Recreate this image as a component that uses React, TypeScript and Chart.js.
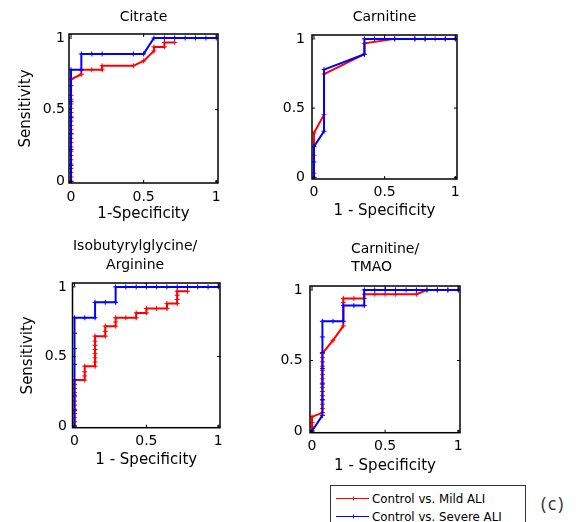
import React, { useEffect, useRef } from "react";
import { Chart, registerables } from "chart.js";

Chart.register(...registerables);

// ---------- data ----------
const TICKS = [0, 0.5, 1];
const X_RANGE = [-0.014, 1.012];
const Y_RANGE = [-0.012, 1.028];
const LEGEND = ["Control vs. Mild ALI", "Control vs. Severe ALI"];
const COLORS = ["#ff0000", "#0000ff"];
const PANEL_TITLES: (string | string[])[] = [
  "Citrate",
  "Carnitine",
  ["Isobutyrylglycine/     ", "Arginine     "],
  ["Carnitine/", "TMAO      "],
];
const X_TITLES = ["1-Specificity", "1 - Specificity", "1 - Specificity", "1 - Specificity"];
const Y_TITLE = "Sensitivity";

// Citrate
const CIT_MILD_X = [0, 0, 0, 0, 0, 0, 0, 0, 0, 0, 0, 0, 0, 0, 0, 0, 0, 0, 0, 0, 0, 0,
  0.071, 0.071, 0.143, 0.214, 0.214, 0.429, 0.5, 0.571, 0.571, 0.643, 0.643, 0.714];
const CIT_MILD_Y = [0, 0.03, 0.06, 0.09, 0.12, 0.15, 0.18, 0.21, 0.24, 0.27, 0.3, 0.33, 0.36, 0.39, 0.42,
  0.45, 0.48, 0.51, 0.54, 0.57, 0.6, 0.712,
  0.747, 0.778, 0.778, 0.778, 0.806, 0.806, 0.84, 0.91, 0.938, 0.938, 0.969, 0.969];
const CIT_SEV_X = [0, 0, 0, 0, 0, 0, 0, 0, 0.071, 0.071, 0.143, 0.214, 0.429, 0.5,
  0.571, 0.643, 0.714, 0.786, 0.857, 0.929, 1];
const CIT_SEV_Y = [0, 0.111, 0.222, 0.333, 0.444, 0.556, 0.667, 0.778, 0.778, 0.889, 0.889, 0.889, 0.889, 0.889,
  1, 1, 1, 1, 1, 1, 1];

// Carnitine
const CAR_MILD_X = [0, 0, 0, 0, 0.071, 0.071, 0.357, 0.357, 0.571, 0.714, 0.786, 0.857, 0.929, 1];
const CAR_MILD_Y = [0, 0.03, 0.16, 0.32, 0.453, 0.746, 0.889, 0.968, 1, 1, 1, 1, 1, 1];
const CAR_SEV_X = [0, 0, 0, 0.071, 0.071, 0.357, 0.357, 0.429, 0.571, 0.714, 0.786, 0.929, 1];
const CAR_SEV_Y = [0, 0.111, 0.222, 0.333, 0.778, 0.889, 1, 1, 1, 1, 1, 1, 1];

// Isobutyrylglycine / Arginine
const IA_MILD_X = [0, 0, 0, 0, 0, 0, 0, 0, 0, 0, 0, 0,
  0.071, 0.071, 0.071, 0.071,
  0.143, 0.143, 0.143, 0.143, 0.143, 0.143, 0.143, 0.143,
  0.214, 0.214, 0.214, 0.286, 0.286, 0.286,
  0.357, 0.429, 0.429, 0.5, 0.5, 0.571, 0.643, 0.643,
  0.714, 0.714, 0.714, 0.714, 0.786];
const IA_MILD_Y = [0, 0.03, 0.06, 0.09, 0.12, 0.15, 0.18, 0.21, 0.24, 0.27, 0.3, 0.33,
  0.33, 0.36, 0.39, 0.43,
  0.43, 0.46, 0.49, 0.52, 0.55, 0.58, 0.61, 0.646,
  0.646, 0.68, 0.718, 0.718, 0.748, 0.778,
  0.778, 0.778, 0.813, 0.813, 0.845, 0.845, 0.845, 0.88,
  0.88, 0.91, 0.94, 0.969, 0.969];
const IA_SEV_X = [0, 0, 0, 0, 0, 0, 0, 0, 0.071, 0.143, 0.143, 0.214, 0.286, 0.286,
  0.357, 0.429, 0.5, 0.571, 0.643, 0.714, 0.786, 0.857, 0.929, 1];
const IA_SEV_Y = [0, 0.111, 0.222, 0.333, 0.444, 0.556, 0.667, 0.778, 0.778, 0.778, 0.889, 0.889, 0.889, 1,
  1, 1, 1, 1, 1, 1, 1, 1, 1, 1];

// Carnitine / TMAO
const CT_MILD_X = [0, 0, 0, 0, 0.071,
  0.071, 0.071, 0.071, 0.071, 0.071, 0.071, 0.071, 0.071, 0.071, 0.071, 0.071, 0.071, 0.071, 0.071,
  0.143, 0.214, 0.214, 0.214, 0.286, 0.357, 0.357, 0.429, 0.5, 0.571, 0.714, 0.786, 0.857, 0.929, 1];
const CT_MILD_Y = [0, 0.03, 0.06, 0.1, 0.13,
  0.16, 0.19, 0.22, 0.25, 0.28, 0.31, 0.34, 0.37, 0.4, 0.43, 0.46, 0.49, 0.52, 0.55,
  0.643, 0.745, 0.91, 0.94, 0.94, 0.94, 0.97, 0.97, 0.97, 0.97, 0.97, 1, 1, 1, 1];
const CT_SEV_X = [0, 0.071, 0.071, 0.071, 0.071, 0.071, 0.071, 0.071, 0.143, 0.214, 0.214, 0.286, 0.357, 0.357,
  0.429, 0.5, 0.571, 0.643, 0.714, 0.786, 0.857, 0.929, 1];
const CT_SEV_Y = [0, 0.111, 0.222, 0.333, 0.444, 0.556, 0.667, 0.778, 0.778, 0.778, 0.889, 0.889, 0.889, 1,
  1, 1, 1, 1, 1, 1, 1, 1, 1];

// ---------- layout ----------
const FONT = "'DejaVu Sans', sans-serif";

type Spec = {
  left: number; top: number; w: number; h: number;
  title: string | string[]; titleLH: number; titlePadTop: number; titlePadBottom: number;
  padRight: number; yW: number; xH: number;
  xTickPad: number; yTickPad: number;
  xTitle: string; xTitlePadBottom: number;
  yTitle: string | null; yTitlePadTop: number;
  mildX: number[]; mildY: number[]; sevX: number[]; sevY: number[];
};

const SPECS: Spec[] = [
  {
    left: 0, top: 0, w: 240, h: 230,
    title: PANEL_TITLES[0], titleLH: 1.2, titlePadTop: 8.8, titlePadBottom: 8.4,
    padRight: 22, yW: 69, xH: 47, xTickPad: 5.8, yTickPad: 4,
    xTitle: X_TITLES[0], xTitlePadBottom: 7, yTitle: Y_TITLE, yTitlePadTop: 17.5,
    mildX: CIT_MILD_X, mildY: CIT_MILD_Y, sevX: CIT_SEV_X, sevY: CIT_SEV_Y,
  },
  {
    left: 260, top: 0, w: 220, h: 230,
    title: PANEL_TITLES[1], titleLH: 1.2, titlePadTop: 8.8, titlePadBottom: 9.4,
    padRight: 23, yW: 52, xH: 51, xTickPad: 5.1, yTickPad: 7,
    xTitle: X_TITLES[1], xTitlePadBottom: 9.5, yTitle: null, yTitlePadTop: 0,
    mildX: CAR_MILD_X, mildY: CAR_MILD_Y, sevX: CAR_SEV_X, sevY: CAR_SEV_Y,
  },
  {
    left: 0, top: 230, w: 240, h: 245,
    title: PANEL_TITLES[2], titleLH: 1.3, titlePadTop: 7.7, titlePadBottom: 8.9,
    padRight: 20, yW: 72.5, xH: 47.3, xTickPad: 5.6, yTickPad: 5.5,
    xTitle: X_TITLES[2], xTitlePadBottom: 6, yTitle: Y_TITLE, yTitlePadTop: 19.5,
    mildX: IA_MILD_X, mildY: IA_MILD_Y, sevX: IA_SEV_X, sevY: IA_SEV_Y,
  },
  {
    left: 260, top: 230, w: 220, h: 250,
    title: PANEL_TITLES[3], titleLH: 1.3, titlePadTop: 10.4, titlePadBottom: 9.2,
    padRight: 20, yW: 50, xH: 47.3, xTickPad: 5.6, yTickPad: 7.3,
    xTitle: X_TITLES[3], xTitlePadBottom: 5, yTitle: null, yTitlePadTop: 0,
    mildX: CT_MILD_X, mildY: CT_MILD_Y, sevX: CT_SEV_X, sevY: CT_SEV_Y,
  },
];

const toPoints = (xs: number[], ys: number[]) => xs.map((x, i) => ({ x, y: ys[i] }));

const framePlugin = {
  id: "frame",
  afterDatasetsDraw(chart: any) {
    const { ctx, chartArea: a, scales } = chart;
    const x = scales.x;
    const y = scales.y;
    ctx.save();
    ctx.strokeStyle = "#000";
    ctx.lineWidth = 1.5;
    ctx.strokeRect(a.left, a.top, a.right - a.left, a.bottom - a.top);
    ctx.lineWidth = 1;
    ctx.beginPath();
    for (const v of TICKS) {
      const px = x.getPixelForValue(v);
      ctx.moveTo(px, a.bottom);
      ctx.lineTo(px, a.bottom - 3);
      ctx.moveTo(px, a.top);
      ctx.lineTo(px, a.top + 3);
      const py = y.getPixelForValue(v);
      ctx.moveTo(a.left, py);
      ctx.lineTo(a.left + 3, py);
      ctx.moveTo(a.right, py);
      ctx.lineTo(a.right - 3, py);
    }
    ctx.stroke();
    ctx.restore();
  },
};

function dataset(label: string, color: string, pts: { x: number; y: number }[], order: number) {
  return {
    label,
    data: pts,
    borderColor: color,
    backgroundColor: color,
    borderWidth: 2,
    pointStyle: "cross",
    pointRadius: 2.5,
    pointBorderWidth: 1,
    pointBorderColor: color,
    pointBackgroundColor: color,
    tension: 0,
    fill: false,
    order,
  };
}

function makeConfig(s: Spec): any {
  const tickFont = { family: FONT, size: 14 };
  const axisFont = { family: FONT, size: 15, lineHeight: 1.2 };
  return {
    type: "line",
    data: {
      datasets: [
        dataset(LEGEND[0], COLORS[0], toPoints(s.mildX, s.mildY), 1),
        dataset(LEGEND[1], COLORS[1], toPoints(s.sevX, s.sevY), 0),
      ],
    },
    options: {
      responsive: false,
      animation: false,
      events: [],
      layout: { padding: { left: 0, top: 0, bottom: 0, right: s.padRight } },
      plugins: {
        legend: { display: false },
        tooltip: { enabled: false },
        title: {
          display: true,
          text: s.title,
          fullSize: false,
          color: "#000",
          font: { family: FONT, size: 14, weight: "normal", lineHeight: s.titleLH },
          padding: { top: s.titlePadTop, bottom: s.titlePadBottom },
        },
      },
      scales: {
        x: {
          type: "linear",
          min: X_RANGE[0],
          max: X_RANGE[1],
          afterBuildTicks: (sc: any) => {
            sc.ticks = TICKS.map((v) => ({ value: v }));
          },
          afterFit: (sc: any) => {
            sc.height = s.xH;
          },
          grid: { display: false, drawTicks: false },
          border: { display: false },
          ticks: {
            padding: s.xTickPad,
            color: "#000",
            font: tickFont,
            maxRotation: 0,
            autoSkip: false,
            callback: (v: any) => String(v),
          },
          title: {
            display: true,
            text: s.xTitle,
            color: "#000",
            font: axisFont,
            padding: { top: 0, bottom: s.xTitlePadBottom },
          },
        },
        y: {
          type: "linear",
          min: Y_RANGE[0],
          max: Y_RANGE[1],
          afterBuildTicks: (sc: any) => {
            sc.ticks = TICKS.map((v) => ({ value: v }));
          },
          afterFit: (sc: any) => {
            sc.width = s.yW;
          },
          grid: { display: false, drawTicks: false },
          border: { display: false },
          ticks: {
            padding: s.yTickPad,
            color: "#000",
            font: tickFont,
            autoSkip: false,
            callback: (v: any) => String(v),
          },
          title: {
            display: !!s.yTitle,
            text: s.yTitle || "",
            color: "#000",
            font: axisFont,
            padding: { top: s.yTitlePadTop, bottom: 0 },
          },
        },
      },
    },
    plugins: [framePlugin],
  };
}

function Panel({ spec }: { spec: Spec }) {
  const ref = useRef<HTMLCanvasElement | null>(null);
  useEffect(() => {
    if (!ref.current) return;
    const chart = new Chart(ref.current, makeConfig(spec));
    return () => chart.destroy();
  }, [spec]);
  return (
    <canvas
      ref={ref}
      width={spec.w}
      height={spec.h}
      style={{ position: "absolute", left: spec.left, top: spec.top, width: spec.w, height: spec.h }}
    />
  );
}

function LegendRow({ color, label, top }: { color: string; label: string; top: number }) {
  return (
    <div style={{ position: "absolute", left: 0, top, height: 14, width: 196 }}>
      <svg width={40} height={14} style={{ position: "absolute", left: 4, top: 0 }}>
        <line x1={1} y1={6.5} x2={34} y2={6.5} stroke={color} strokeWidth={1.2} />
        <path d="M18.5 4.5 V8.5 M16.5 6.5 H20.5" stroke={color} strokeWidth={1} />
      </svg>
      <span
        style={{
          position: "absolute",
          left: 41,
          top: 0,
          font: `11.8px ${FONT}`,
          lineHeight: "14px",
          color: "#000",
          whiteSpace: "nowrap",
        }}
      >
        {label}
      </span>
    </div>
  );
}

export default function App() {
  return (
    <div
      style={{
        position: "absolute",
        left: 0,
        top: 0,
        width: 581,
        height: 522,
        overflow: "hidden",
        background: "#fff",
      }}
    >
      {SPECS.map((s, i) => (
        <Panel key={i} spec={s} />
      ))}
      <div
        style={{
          position: "absolute",
          left: 330,
          top: 485,
          width: 196,
          height: 45,
          border: "1px solid #333",
          boxSizing: "border-box",
          background: "#fff",
        }}
      >
        <LegendRow color={COLORS[0]} label={LEGEND[0]} top={5.5} />
        <LegendRow color={COLORS[1]} label={LEGEND[1]} top={24} />
      </div>
      <div
        style={{
          position: "absolute",
          left: 541,
          top: 492,
          font: "18px 'Open Sans', sans-serif",
          lineHeight: "22px",
          letterSpacing: "1.5px",
          color: "#333",
          whiteSpace: "nowrap",
        }}
      >
        (c)
      </div>
    </div>
  );
}
